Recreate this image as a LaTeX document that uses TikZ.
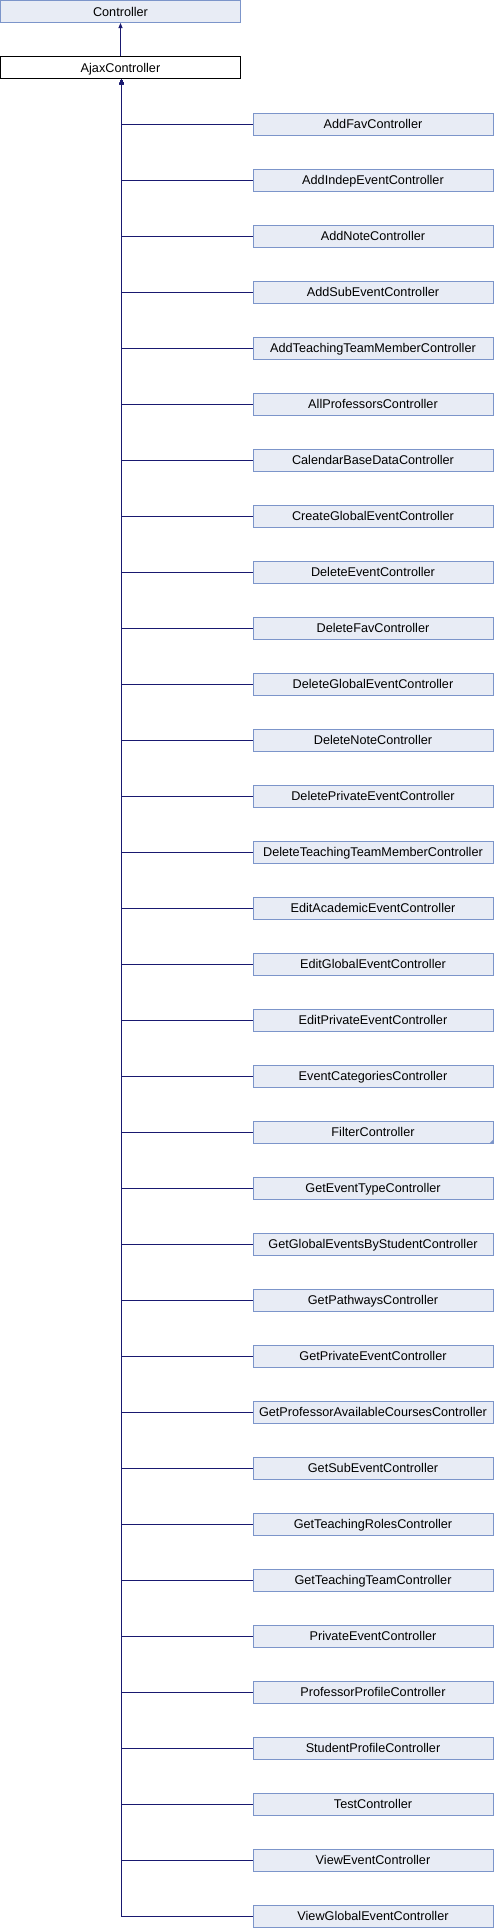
\documentclass[tikz,border=0pt]{standalone}
\usepackage{fontspec}
\setmainfont{Liberation Sans}
\usetikzlibrary{arrows.meta}
\definecolor{boxfill}{RGB}{232,236,245}
\definecolor{boxdraw}{RGB}{124,149,202}
\definecolor{edgecol}{RGB}{25,25,112}
\begin{document}
\begin{tikzpicture}[x=0.75pt,y=-0.75pt,
  cls/.style={draw=boxdraw,fill=boxfill,line width=0.75pt,rectangle,inner sep=0pt,
    minimum width=180pt,minimum height=16.5pt,text height=6.8pt,text depth=0pt,
    font=\fontsize{9.5}{11}\selectfont},
  cur/.style={cls,draw=black,fill=white},
  edge/.style={draw=edgecol,line width=0.75pt,-{Triangle[width=3pt,length=3.75pt]}}]
\useasboundingbox (0,0) rectangle (494,1928);
\node[cls] (ctrl) at (120.5,11.5) {Controller};
\node[cur] (ajax) at (120.5,67.5) {AjaxController};
\draw[edge] (ajax.north) -- (ctrl.south);
\foreach \name [count=\i from 0] in {AddFavController,AddIndepEventController,AddNoteController,AddSubEventController,AddTeachingTeamMemberController,AllProfessorsController,CalendarBaseDataController,CreateGlobalEventController,DeleteEventController,DeleteFavController,DeleteGlobalEventController,DeleteNoteController,DeletePrivateEventController,DeleteTeachingTeamMemberController,EditAcademicEventController,EditGlobalEventController,EditPrivateEventController,EventCategoriesController,FilterController,GetEventTypeController,GetGlobalEventsByStudentController,GetPathwaysController,GetPrivateEventController,GetProfessorAvailableCoursesController,GetSubEventController,GetTeachingRolesController,GetTeachingTeamController,PrivateEventController,ProfessorProfileController,StudentProfileController,TestController,ViewEventController,ViewGlobalEventController}{
  \node[cls] (c\i) at (373,124.3+56*\i) {\name};
  \draw[edge] (c\i.west) -| ([xshift=0.8]ajax.south);
}
\fill[boxdraw] (c18.south east) -- ++(-4.5,0) -- ++(4.5,-4.5) -- cycle;
\end{tikzpicture}
\end{document}
